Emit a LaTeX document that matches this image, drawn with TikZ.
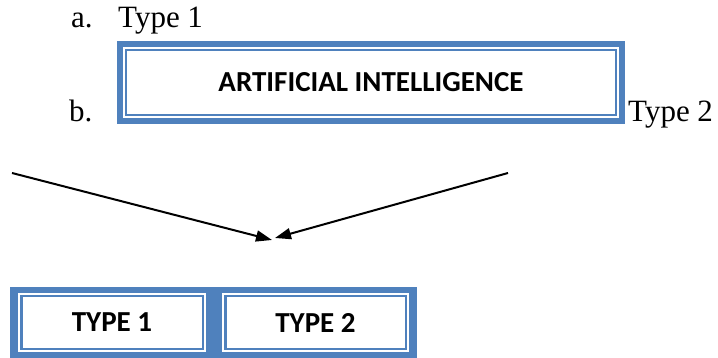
\documentclass[tikz,border=0pt]{standalone}
\usepackage{fontspec}
\setmainfont{Liberation Serif}
\newfontfamily\boxfont{Carlito}
\usetikzlibrary{arrows.meta, positioning}
\definecolor{aiblue}{HTML}{4F81BD}

\tikzset{
  outerframe/.style={fill=aiblue, inner sep=0pt},
  innerframe/.style={draw=aiblue, line width=2.5pt, fill=white, inner sep=0pt,
    preaction={draw=white, line width=6.5pt},
    font=\boxfont\bfseries\fontsize{29}{34}\selectfont},
  listtext/.style={anchor=base west, inner sep=0pt, font=\fontsize{31}{36}\selectfont},
}

\begin{document}
\begin{tikzpicture}[x=1pt, y=-1pt, >={Triangle[length=16pt,width=11pt]}]
\useasboundingbox (0,0) rectangle (718,358);

% define the list lines
  \node[listtext] (la)     at (71,28)  {a.};
  \node[listtext] (ltype1) at (118,28) {Type 1};
  \node[listtext] (lb)     at (69,122) {b.};
  \node[listtext] (ltype2) at (628,122) {Type 2};

% define the top box
  \node[outerframe, minimum width=508pt, minimum height=83pt] (aiback) at (371,82.5) {};
  \node[innerframe, minimum width=490pt, minimum height=65pt] (ai) at (aiback.center)
{ARTIFICIAL INTELLIGENCE};

% define the bottom boxes
  \node[outerframe, minimum width=407pt, minimum height=71pt] (typeback) at (213.5,322.5) {};
  \node[innerframe, minimum width=181.5pt, minimum height=52.5pt] (t1) at (112,322.5)
{TYPE 1};
  \node[innerframe, minimum width=180.5pt, minimum height=52.5pt] (t2) [right of=t1, node distance=203.5pt]
{TYPE 2};

% define the arrows
  \coordinate (lstart) at (12,173);
  \coordinate (lend)   at (272,240);
  \coordinate (rstart) at (508,173);
  \coordinate (rend)   at (275,238);
  \draw[->, line width=2pt] (lstart) -- (lend);
  \draw[->, line width=2pt] (rstart) -- (rend);

\end{tikzpicture}
\end{document}
